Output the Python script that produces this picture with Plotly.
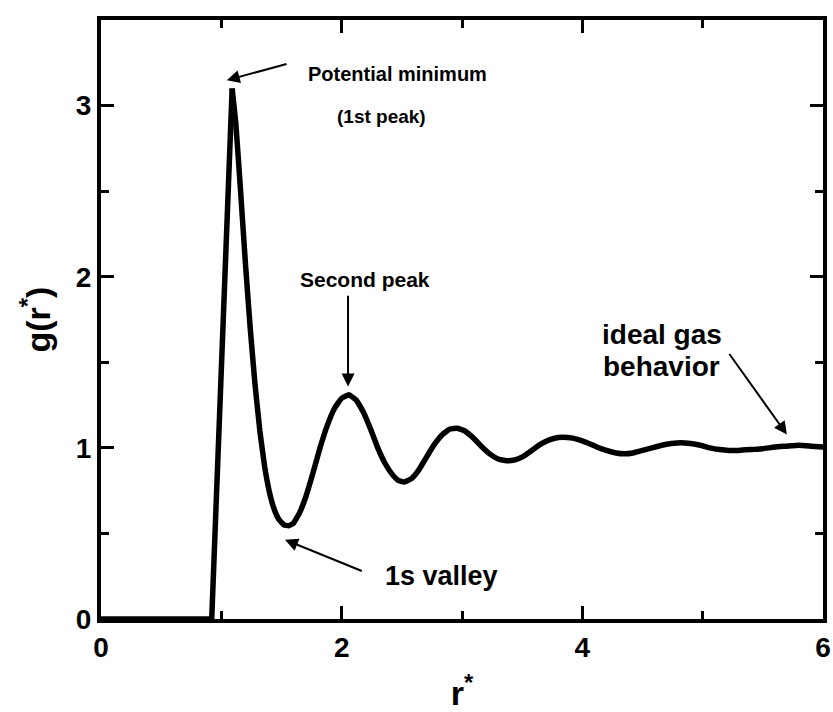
import plotly.graph_objects as go

r_star = [0.0, 0.5, 0.92, 1.09, 1.12, 1.16, 1.20, 1.24, 1.28, 1.32, 1.36, 1.40, 1.44, 1.48, 1.52,
          1.56, 1.60, 1.65, 1.70, 1.76, 1.82, 1.88, 1.94, 2.00, 2.06, 2.12, 2.18, 2.24, 2.30, 2.36,
          2.42, 2.47, 2.52, 2.58, 2.64, 2.70, 2.77, 2.84, 2.90, 2.96, 3.02, 3.09, 3.16, 3.23, 3.30,
          3.37, 3.44, 3.51, 3.58, 3.65, 3.72, 3.80, 3.88, 3.96, 4.04, 4.12, 4.20, 4.28, 4.35, 4.42,
          4.50, 4.58, 4.66, 4.74, 4.82, 4.90, 4.98, 5.06, 5.14, 5.22, 5.30, 5.40, 5.50, 5.60, 5.70,
          5.80, 5.90, 6.0]
g_r = [0.0, 0.0, 0.0, 3.10, 2.90, 2.50, 2.08, 1.70, 1.37, 1.10, 0.89, 0.74, 0.64, 0.58, 0.55,
       0.545, 0.56, 0.62, 0.71, 0.85, 1.00, 1.13, 1.23, 1.29, 1.31, 1.28, 1.21, 1.11, 1.00, 0.91,
       0.845, 0.81, 0.80, 0.82, 0.87, 0.94, 1.02, 1.08, 1.11, 1.115, 1.10, 1.06, 1.01, 0.965, 0.935,
       0.925, 0.93, 0.95, 0.985, 1.02, 1.045, 1.06, 1.06, 1.05, 1.03, 1.005, 0.985, 0.97, 0.965, 0.97,
       0.985, 1.0, 1.015, 1.025, 1.03, 1.025, 1.015, 1.0, 0.99, 0.985, 0.985, 0.99, 0.995, 1.005, 1.01,
       1.015, 1.01, 1.005]

x_ticks = [0, 2, 4, 6]
y_ticks = [0, 1, 2, 3]

FONT = "Liberation Sans"
PEAK = 3  # index of first peak: straight rise before it, smooth curve after it
XTICK_COLOR = "black"

fig = go.Figure()
fig.add_trace(go.Scatter(x=r_star[:PEAK + 1], y=g_r[:PEAK + 1], mode="lines",
                         line=dict(color="black", width=5.5),
                         showlegend=False, hoverinfo="skip"))
fig.add_trace(go.Scatter(x=r_star[PEAK:], y=g_r[PEAK:], mode="lines",
                         line=dict(color="black", width=5.5, shape="spline", smoothing=0.3),
                         showlegend=False, hoverinfo="skip"))
fig.add_trace(go.Scatter(x=[0], y=[0], xaxis="x2", yaxis="y2", mode="markers",
                         marker=dict(opacity=0), showlegend=False, hoverinfo="skip"))

tick_font = dict(family=FONT, size=28, color="black", weight="bold")
title_font = dict(family=FONT, size=34, color="black", weight="bold")

axis_common = dict(showline=True, linecolor="black", linewidth=4,
                   ticks="inside", ticklen=13, tickwidth=3,
                   showgrid=False, zeroline=False, automargin=False)

fig.update_layout(
    xaxis=dict(range=[0, 6], tickvals=x_ticks, ticktext=[str(v) for v in x_ticks], mirror="ticks",
               tickcolor=XTICK_COLOR,
               minor=dict(dtick=1, ticks="inside", ticklen=8, tickwidth=3, tickcolor=XTICK_COLOR, showgrid=False),
               tickfont=tick_font,
               title=dict(text="r<sup>*</sup>", font=title_font, standoff=24),
               **axis_common),
    yaxis=dict(range=[0, 3.5], tickvals=y_ticks, ticktext=[str(v) for v in y_ticks], mirror="ticks",
               tickcolor="black",
               minor=dict(dtick=0.5, ticks="inside", ticklen=8, tickwidth=3, tickcolor="black", showgrid=False),
               tickfont=tick_font,
               title=dict(text="g(r<sup>*</sup>)", font=title_font, standoff=16),
               **axis_common),
    xaxis2=dict(range=[0, 6], overlaying="x", side="top", anchor="y2", tickvals=x_ticks, showticklabels=False,
                tickcolor=XTICK_COLOR,
                minor=dict(dtick=1, ticks="inside", ticklen=8, tickwidth=3, tickcolor=XTICK_COLOR, showgrid=False),
                **axis_common),
    yaxis2=dict(range=[0, 3.5], overlaying="y", side="right", anchor="x2", tickvals=y_ticks, showticklabels=False,
                tickcolor="black",
                minor=dict(dtick=0.5, ticks="inside", ticklen=8, tickwidth=3, tickcolor="black", showgrid=False),
                **axis_common),
)

arrows = [
    (1.045, 3.148, 1.554, 3.245),
    (2.053, 1.359, 2.053, 1.898),
    (1.529, 0.463, 2.18, 0.277),
    (5.70, 1.078, 5.213, 1.557),
]
for x, y, ax, ay in arrows:
    fig.add_annotation(x=x, y=y, ax=ax, ay=ay, xref="x", yref="y", axref="x", ayref="y",
                       text="", showarrow=True, arrowhead=2, arrowsize=1.3, arrowwidth=2,
                       arrowcolor="black")

labels = [
    ("Potential minimum", 2.46, 3.187, 20),
    ("(1st peak)", 2.327, 2.935, 19),
    ("Second peak", 2.194, 1.986, 21),
    ("1s valley", 2.826, 0.252, 27),
    ("ideal gas", 4.66, 1.664, 28),
    ("behavior", 4.66, 1.476, 28),
]
for text, x, y, size in labels:
    fig.add_annotation(x=x, y=y, xref="x", yref="y", text=text, showarrow=False,
                       font=dict(family=FONT, size=size, color="black", weight="bold"))

fig.update_layout(width=833, height=712, margin=dict(l=101, r=10, t=20, b=93),
                  plot_bgcolor="white", paper_bgcolor="white")

fig.write_html("out.html")
